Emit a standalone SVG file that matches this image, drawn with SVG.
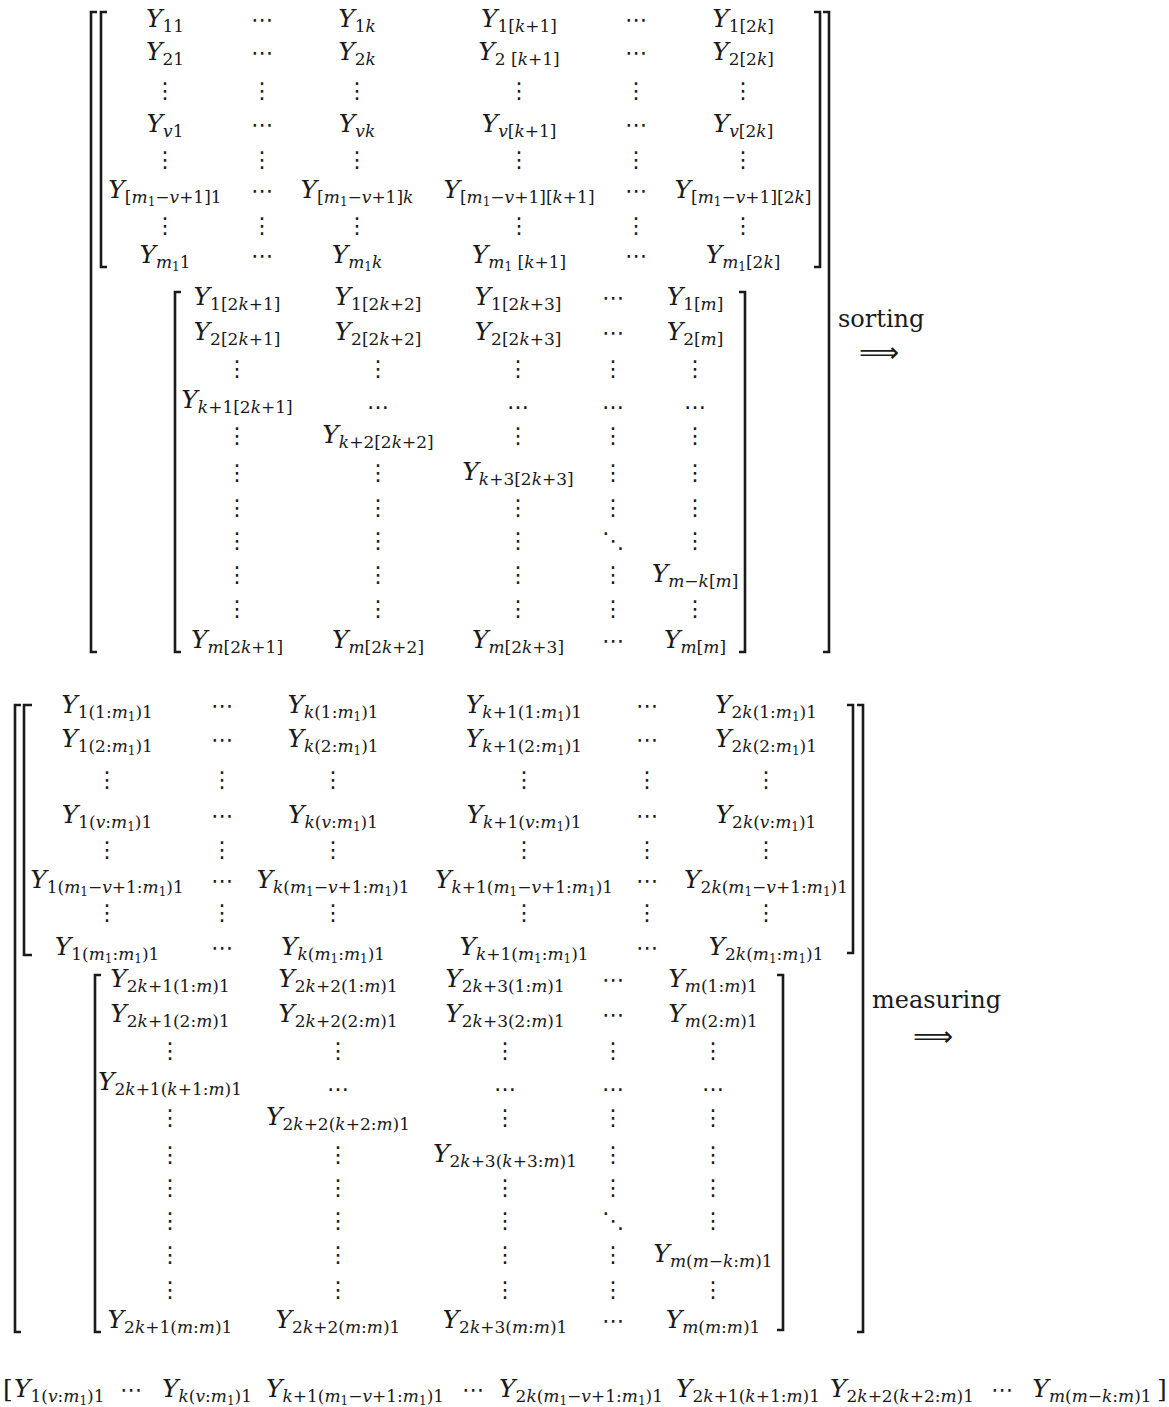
<svg xmlns="http://www.w3.org/2000/svg" width="1169" height="1407" viewBox="0 0 1169 1407">
<style>
.t{font-family:"DejaVu Serif",serif;font-size:25px;fill:#1a1a1a;text-anchor:middle}
.i{font-style:italic}
.s{font-size:17px}
.n{font-size:12px}
.d{font-family:"DejaVu Sans",sans-serif;font-size:22px;fill:#1a1a1a;text-anchor:middle}
.w{font-family:"DejaVu Serif",serif;font-size:24px;fill:#1a1a1a}
.a{font-family:"DejaVu Sans",sans-serif;font-size:28px;fill:#1a1a1a;text-anchor:middle}
.b{fill:none;stroke:#1a1a1a;stroke-width:2.6}
</style>
<rect width="1169" height="1407" fill="#fff"/>

<g id="brackets">
<path class="b" d="M97,12H91V652H97"/>
<path class="b" d="M107,12H101V267H107"/>
<path class="b" d="M814,12H820V267H814"/>
<path class="b" d="M823,12H829V652H823"/>
<path class="b" d="M181,292H175V652H181"/>
<path class="b" d="M739,292H745V652H739"/>
<path class="b" d="M21,705H15V1332H21"/>
<path class="b" d="M32,705H24V955H32"/>
<path class="b" d="M847,705H853V953H847"/>
<path class="b" d="M857,705H863V1332H857"/>
<path class="b" d="M101,975H95V1332H101"/>
<path class="b" d="M777,975H783V1330H777"/>
</g>

<g id="sorting-upper">
<text class="t" x="165" y="27"><tspan class="i">Y</tspan><tspan class="s" dy="5">11</tspan></text>
<text class="d" x="262" y="27">⋯</text>
<text class="t" x="357" y="27"><tspan class="i">Y</tspan><tspan class="s" dy="5">1<tspan class="i">k</tspan></tspan></text>
<text class="t" x="519" y="27"><tspan class="i">Y</tspan><tspan class="s" dy="5">1[<tspan class="i">k</tspan>+1]</tspan></text>
<text class="d" x="636" y="27">⋯</text>
<text class="t" x="743" y="27"><tspan class="i">Y</tspan><tspan class="s" dy="5">1[2<tspan class="i">k</tspan>]</tspan></text>

<text class="t" x="165" y="60"><tspan class="i">Y</tspan><tspan class="s" dy="5">21</tspan></text>
<text class="d" x="262" y="60">⋯</text>
<text class="t" x="357" y="60"><tspan class="i">Y</tspan><tspan class="s" dy="5">2<tspan class="i">k</tspan></tspan></text>
<text class="t" x="519" y="60"><tspan class="i">Y</tspan><tspan class="s" dy="5">2 [<tspan class="i">k</tspan>+1]</tspan></text>
<text class="d" x="636" y="60">⋯</text>
<text class="t" x="743" y="60"><tspan class="i">Y</tspan><tspan class="s" dy="5">2[2<tspan class="i">k</tspan>]</tspan></text>

<text class="d" x="165" y="98">⋮</text><text class="d" x="262" y="98">⋮</text><text class="d" x="357" y="98">⋮</text><text class="d" x="519" y="98">⋮</text><text class="d" x="636" y="98">⋮</text><text class="d" x="743" y="98">⋮</text>

<text class="t" x="165" y="132"><tspan class="i">Y</tspan><tspan class="s" dy="5"><tspan class="i">v</tspan>1</tspan></text>
<text class="d" x="262" y="132">⋯</text>
<text class="t" x="357" y="132"><tspan class="i">Y</tspan><tspan class="s i" dy="5">vk</tspan></text>
<text class="t" x="519" y="132"><tspan class="i">Y</tspan><tspan class="s" dy="5"><tspan class="i">v</tspan>[<tspan class="i">k</tspan>+1]</tspan></text>
<text class="d" x="636" y="132">⋯</text>
<text class="t" x="743" y="132"><tspan class="i">Y</tspan><tspan class="s" dy="5"><tspan class="i">v</tspan>[2<tspan class="i">k</tspan>]</tspan></text>

<text class="d" x="165" y="167">⋮</text><text class="d" x="262" y="167">⋮</text><text class="d" x="357" y="167">⋮</text><text class="d" x="519" y="167">⋮</text><text class="d" x="636" y="167">⋮</text><text class="d" x="743" y="167">⋮</text>

<text class="t" x="165" y="198"><tspan class="i">Y</tspan><tspan class="s" dy="5">[<tspan class="i">m</tspan><tspan class="n" dy="3">1</tspan><tspan dy="-3">−<tspan class="i">v</tspan>+1]1</tspan></tspan></text>
<text class="d" x="262" y="198">⋯</text>
<text class="t" x="357" y="198"><tspan class="i">Y</tspan><tspan class="s" dy="5">[<tspan class="i">m</tspan><tspan class="n" dy="3">1</tspan><tspan dy="-3">−<tspan class="i">v</tspan>+1]<tspan class="i">k</tspan></tspan></tspan></text>
<text class="t" x="519" y="198"><tspan class="i">Y</tspan><tspan class="s" dy="5">[<tspan class="i">m</tspan><tspan class="n" dy="3">1</tspan><tspan dy="-3">−<tspan class="i">v</tspan>+1][<tspan class="i">k</tspan>+1]</tspan></tspan></text>
<text class="d" x="636" y="198">⋯</text>
<text class="t" x="743" y="198"><tspan class="i">Y</tspan><tspan class="s" dy="5">[<tspan class="i">m</tspan><tspan class="n" dy="3">1</tspan><tspan dy="-3">−<tspan class="i">v</tspan>+1][2<tspan class="i">k</tspan>]</tspan></tspan></text>

<text class="d" x="165" y="233">⋮</text><text class="d" x="262" y="233">⋮</text><text class="d" x="357" y="233">⋮</text><text class="d" x="519" y="233">⋮</text><text class="d" x="636" y="233">⋮</text><text class="d" x="743" y="233">⋮</text>

<text class="t" x="165" y="263"><tspan class="i">Y</tspan><tspan class="s" dy="5"><tspan class="i">m</tspan><tspan class="n" dy="3">1</tspan><tspan dy="-3">1</tspan></tspan></text>
<text class="d" x="262" y="263">⋯</text>
<text class="t" x="357" y="263"><tspan class="i">Y</tspan><tspan class="s" dy="5"><tspan class="i">m</tspan><tspan class="n" dy="3">1</tspan><tspan class="i" dy="-3">k</tspan></tspan></text>
<text class="t" x="519" y="263"><tspan class="i">Y</tspan><tspan class="s" dy="5"><tspan class="i">m</tspan><tspan class="n" dy="3">1</tspan><tspan dy="-3"> [<tspan class="i">k</tspan>+1]</tspan></tspan></text>
<text class="d" x="636" y="263">⋯</text>
<text class="t" x="743" y="263"><tspan class="i">Y</tspan><tspan class="s" dy="5"><tspan class="i">m</tspan><tspan class="n" dy="3">1</tspan><tspan dy="-3">[2<tspan class="i">k</tspan>]</tspan></tspan></text>
</g>

<g id="sorting-lower">
<text class="t" x="237" y="305"><tspan class="i">Y</tspan><tspan class="s" dy="5">1[2<tspan class="i">k</tspan>+1]</tspan></text>
<text class="t" x="378" y="305"><tspan class="i">Y</tspan><tspan class="s" dy="5">1[2<tspan class="i">k</tspan>+2]</tspan></text>
<text class="t" x="518" y="305"><tspan class="i">Y</tspan><tspan class="s" dy="5">1[2<tspan class="i">k</tspan>+3]</tspan></text>
<text class="d" x="613" y="305">⋯</text>
<text class="t" x="695" y="305"><tspan class="i">Y</tspan><tspan class="s" dy="5">1[<tspan class="i">m</tspan>]</tspan></text>

<text class="t" x="237" y="340"><tspan class="i">Y</tspan><tspan class="s" dy="5">2[2<tspan class="i">k</tspan>+1]</tspan></text>
<text class="t" x="378" y="340"><tspan class="i">Y</tspan><tspan class="s" dy="5">2[2<tspan class="i">k</tspan>+2]</tspan></text>
<text class="t" x="518" y="340"><tspan class="i">Y</tspan><tspan class="s" dy="5">2[2<tspan class="i">k</tspan>+3]</tspan></text>
<text class="d" x="613" y="340">⋯</text>
<text class="t" x="695" y="340"><tspan class="i">Y</tspan><tspan class="s" dy="5">2[<tspan class="i">m</tspan>]</tspan></text>

<text class="d" x="237" y="376">⋮</text><text class="d" x="378" y="376">⋮</text><text class="d" x="518" y="376">⋮</text><text class="d" x="613" y="376">⋮</text><text class="d" x="695" y="376">⋮</text>

<text class="t" x="237" y="408"><tspan class="i">Y</tspan><tspan class="s" dy="5"><tspan class="i">k</tspan>+1[2<tspan class="i">k</tspan>+1]</tspan></text>
<text class="d" x="378" y="409">…</text><text class="d" x="518" y="409">…</text><text class="d" x="613" y="409">…</text><text class="d" x="695" y="409">…</text>

<text class="d" x="237" y="443">⋮</text>
<text class="t" x="378" y="443"><tspan class="i">Y</tspan><tspan class="s" dy="5"><tspan class="i">k</tspan>+2[2<tspan class="i">k</tspan>+2]</tspan></text>
<text class="d" x="518" y="443">⋮</text><text class="d" x="613" y="443">⋮</text><text class="d" x="695" y="443">⋮</text>

<text class="d" x="237" y="480">⋮</text><text class="d" x="378" y="480">⋮</text>
<text class="t" x="518" y="480"><tspan class="i">Y</tspan><tspan class="s" dy="5"><tspan class="i">k</tspan>+3[2<tspan class="i">k</tspan>+3]</tspan></text>
<text class="d" x="613" y="480">⋮</text><text class="d" x="695" y="480">⋮</text>

<text class="d" x="237" y="515">⋮</text><text class="d" x="378" y="515">⋮</text><text class="d" x="518" y="515">⋮</text><text class="d" x="613" y="515">⋮</text><text class="d" x="695" y="515">⋮</text>

<text class="d" x="237" y="548">⋮</text><text class="d" x="378" y="548">⋮</text><text class="d" x="518" y="548">⋮</text><text class="d" x="613" y="548">⋱</text><text class="d" x="695" y="548">⋮</text>

<text class="d" x="237" y="582">⋮</text><text class="d" x="378" y="582">⋮</text><text class="d" x="518" y="582">⋮</text><text class="d" x="613" y="582">⋮</text>
<text class="t" x="695" y="582"><tspan class="i">Y</tspan><tspan class="s" dy="5"><tspan class="i">m</tspan>−<tspan class="i">k</tspan>[<tspan class="i">m</tspan>]</tspan></text>

<text class="d" x="237" y="616">⋮</text><text class="d" x="378" y="616">⋮</text><text class="d" x="518" y="616">⋮</text><text class="d" x="613" y="616">⋮</text><text class="d" x="695" y="616">⋮</text>

<text class="t" x="237" y="648"><tspan class="i">Y</tspan><tspan class="s" dy="5"><tspan class="i">m</tspan>[2<tspan class="i">k</tspan>+1]</tspan></text>
<text class="t" x="378" y="648"><tspan class="i">Y</tspan><tspan class="s" dy="5"><tspan class="i">m</tspan>[2<tspan class="i">k</tspan>+2]</tspan></text>
<text class="t" x="518" y="648"><tspan class="i">Y</tspan><tspan class="s" dy="5"><tspan class="i">m</tspan>[2<tspan class="i">k</tspan>+3]</tspan></text>
<text class="d" x="613" y="648">⋯</text>
<text class="t" x="695" y="648"><tspan class="i">Y</tspan><tspan class="s" dy="5"><tspan class="i">m</tspan>[<tspan class="i">m</tspan>]</tspan></text>
</g>

<g id="label-sorting">
<text class="w" x="838" y="327">sorting</text>
<text class="a" x="879" y="362">⟹</text>
</g>

<g id="measuring-upper">
<text class="t" x="107" y="713"><tspan class="i">Y</tspan><tspan class="s" dy="5">1(1:<tspan class="i">m</tspan><tspan class="n" dy="3">1</tspan><tspan dy="-3">)1</tspan></tspan></text>
<text class="d" x="222" y="713">⋯</text>
<text class="t" x="333" y="713"><tspan class="i">Y</tspan><tspan class="s" dy="5"><tspan class="i">k</tspan>(1:<tspan class="i">m</tspan><tspan class="n" dy="3">1</tspan><tspan dy="-3">)1</tspan></tspan></text>
<text class="t" x="524" y="713"><tspan class="i">Y</tspan><tspan class="s" dy="5"><tspan class="i">k</tspan>+1(1:<tspan class="i">m</tspan><tspan class="n" dy="3">1</tspan><tspan dy="-3">)1</tspan></tspan></text>
<text class="d" x="647" y="713">⋯</text>
<text class="t" x="766" y="713"><tspan class="i">Y</tspan><tspan class="s" dy="5">2<tspan class="i">k</tspan>(1:<tspan class="i">m</tspan><tspan class="n" dy="3">1</tspan><tspan dy="-3">)1</tspan></tspan></text>

<text class="t" x="107" y="747"><tspan class="i">Y</tspan><tspan class="s" dy="5">1(2:<tspan class="i">m</tspan><tspan class="n" dy="3">1</tspan><tspan dy="-3">)1</tspan></tspan></text>
<text class="d" x="222" y="747">⋯</text>
<text class="t" x="333" y="747"><tspan class="i">Y</tspan><tspan class="s" dy="5"><tspan class="i">k</tspan>(2:<tspan class="i">m</tspan><tspan class="n" dy="3">1</tspan><tspan dy="-3">)1</tspan></tspan></text>
<text class="t" x="524" y="747"><tspan class="i">Y</tspan><tspan class="s" dy="5"><tspan class="i">k</tspan>+1(2:<tspan class="i">m</tspan><tspan class="n" dy="3">1</tspan><tspan dy="-3">)1</tspan></tspan></text>
<text class="d" x="647" y="747">⋯</text>
<text class="t" x="766" y="747"><tspan class="i">Y</tspan><tspan class="s" dy="5">2<tspan class="i">k</tspan>(2:<tspan class="i">m</tspan><tspan class="n" dy="3">1</tspan><tspan dy="-3">)1</tspan></tspan></text>

<text class="d" x="107" y="787">⋮</text><text class="d" x="222" y="787">⋮</text><text class="d" x="333" y="787">⋮</text><text class="d" x="524" y="787">⋮</text><text class="d" x="647" y="787">⋮</text><text class="d" x="766" y="787">⋮</text>

<text class="t" x="107" y="823"><tspan class="i">Y</tspan><tspan class="s" dy="5">1(<tspan class="i">v</tspan>:<tspan class="i">m</tspan><tspan class="n" dy="3">1</tspan><tspan dy="-3">)1</tspan></tspan></text>
<text class="d" x="222" y="823">⋯</text>
<text class="t" x="333" y="823"><tspan class="i">Y</tspan><tspan class="s" dy="5"><tspan class="i">k</tspan>(<tspan class="i">v</tspan>:<tspan class="i">m</tspan><tspan class="n" dy="3">1</tspan><tspan dy="-3">)1</tspan></tspan></text>
<text class="t" x="524" y="823"><tspan class="i">Y</tspan><tspan class="s" dy="5"><tspan class="i">k</tspan>+1(<tspan class="i">v</tspan>:<tspan class="i">m</tspan><tspan class="n" dy="3">1</tspan><tspan dy="-3">)1</tspan></tspan></text>
<text class="d" x="647" y="823">⋯</text>
<text class="t" x="766" y="823"><tspan class="i">Y</tspan><tspan class="s" dy="5">2<tspan class="i">k</tspan>(<tspan class="i">v</tspan>:<tspan class="i">m</tspan><tspan class="n" dy="3">1</tspan><tspan dy="-3">)1</tspan></tspan></text>

<text class="d" x="107" y="857">⋮</text><text class="d" x="222" y="857">⋮</text><text class="d" x="333" y="857">⋮</text><text class="d" x="524" y="857">⋮</text><text class="d" x="647" y="857">⋮</text><text class="d" x="766" y="857">⋮</text>

<text class="t" x="107" y="888"><tspan class="i">Y</tspan><tspan class="s" dy="5">1(<tspan class="i">m</tspan><tspan class="n" dy="3">1</tspan><tspan dy="-3">−<tspan class="i">v</tspan>+1:<tspan class="i">m</tspan></tspan><tspan class="n" dy="3">1</tspan><tspan dy="-3">)1</tspan></tspan></text>
<text class="d" x="222" y="888">⋯</text>
<text class="t" x="333" y="888"><tspan class="i">Y</tspan><tspan class="s" dy="5"><tspan class="i">k</tspan>(<tspan class="i">m</tspan><tspan class="n" dy="3">1</tspan><tspan dy="-3">−<tspan class="i">v</tspan>+1:<tspan class="i">m</tspan></tspan><tspan class="n" dy="3">1</tspan><tspan dy="-3">)1</tspan></tspan></text>
<text class="t" x="524" y="888"><tspan class="i">Y</tspan><tspan class="s" dy="5"><tspan class="i">k</tspan>+1(<tspan class="i">m</tspan><tspan class="n" dy="3">1</tspan><tspan dy="-3">−<tspan class="i">v</tspan>+1:<tspan class="i">m</tspan></tspan><tspan class="n" dy="3">1</tspan><tspan dy="-3">)1</tspan></tspan></text>
<text class="d" x="647" y="888">⋯</text>
<text class="t" x="766" y="888"><tspan class="i">Y</tspan><tspan class="s" dy="5">2<tspan class="i">k</tspan>(<tspan class="i">m</tspan><tspan class="n" dy="3">1</tspan><tspan dy="-3">−<tspan class="i">v</tspan>+1:<tspan class="i">m</tspan></tspan><tspan class="n" dy="3">1</tspan><tspan dy="-3">)1</tspan></tspan></text>

<text class="d" x="107" y="920">⋮</text><text class="d" x="222" y="920">⋮</text><text class="d" x="333" y="920">⋮</text><text class="d" x="524" y="920">⋮</text><text class="d" x="647" y="920">⋮</text><text class="d" x="766" y="920">⋮</text>

<text class="t" x="107" y="955"><tspan class="i">Y</tspan><tspan class="s" dy="5">1(<tspan class="i">m</tspan><tspan class="n" dy="3">1</tspan><tspan dy="-3">:<tspan class="i">m</tspan></tspan><tspan class="n" dy="3">1</tspan><tspan dy="-3">)1</tspan></tspan></text>
<text class="d" x="222" y="955">⋯</text>
<text class="t" x="333" y="955"><tspan class="i">Y</tspan><tspan class="s" dy="5"><tspan class="i">k</tspan>(<tspan class="i">m</tspan><tspan class="n" dy="3">1</tspan><tspan dy="-3">:<tspan class="i">m</tspan></tspan><tspan class="n" dy="3">1</tspan><tspan dy="-3">)1</tspan></tspan></text>
<text class="t" x="524" y="955"><tspan class="i">Y</tspan><tspan class="s" dy="5"><tspan class="i">k</tspan>+1(<tspan class="i">m</tspan><tspan class="n" dy="3">1</tspan><tspan dy="-3">:<tspan class="i">m</tspan></tspan><tspan class="n" dy="3">1</tspan><tspan dy="-3">)1</tspan></tspan></text>
<text class="d" x="647" y="955">⋯</text>
<text class="t" x="766" y="955"><tspan class="i">Y</tspan><tspan class="s" dy="5">2<tspan class="i">k</tspan>(<tspan class="i">m</tspan><tspan class="n" dy="3">1</tspan><tspan dy="-3">:<tspan class="i">m</tspan></tspan><tspan class="n" dy="3">1</tspan><tspan dy="-3">)1</tspan></tspan></text>
</g>

<g id="measuring-lower">
<text class="t" x="170" y="987"><tspan class="i">Y</tspan><tspan class="s" dy="5">2<tspan class="i">k</tspan>+1(1:<tspan class="i">m</tspan>)1</tspan></text>
<text class="t" x="338" y="987"><tspan class="i">Y</tspan><tspan class="s" dy="5">2<tspan class="i">k</tspan>+2(1:<tspan class="i">m</tspan>)1</tspan></text>
<text class="t" x="505" y="987"><tspan class="i">Y</tspan><tspan class="s" dy="5">2<tspan class="i">k</tspan>+3(1:<tspan class="i">m</tspan>)1</tspan></text>
<text class="d" x="613" y="987">⋯</text>
<text class="t" x="713" y="987"><tspan class="i">Y</tspan><tspan class="s" dy="5"><tspan class="i">m</tspan>(1:<tspan class="i">m</tspan>)1</tspan></text>

<text class="t" x="170" y="1022"><tspan class="i">Y</tspan><tspan class="s" dy="5">2<tspan class="i">k</tspan>+1(2:<tspan class="i">m</tspan>)1</tspan></text>
<text class="t" x="338" y="1022"><tspan class="i">Y</tspan><tspan class="s" dy="5">2<tspan class="i">k</tspan>+2(2:<tspan class="i">m</tspan>)1</tspan></text>
<text class="t" x="505" y="1022"><tspan class="i">Y</tspan><tspan class="s" dy="5">2<tspan class="i">k</tspan>+3(2:<tspan class="i">m</tspan>)1</tspan></text>
<text class="d" x="613" y="1022">⋯</text>
<text class="t" x="713" y="1022"><tspan class="i">Y</tspan><tspan class="s" dy="5"><tspan class="i">m</tspan>(2:<tspan class="i">m</tspan>)1</tspan></text>

<text class="d" x="170" y="1058">⋮</text><text class="d" x="338" y="1058">⋮</text><text class="d" x="505" y="1058">⋮</text><text class="d" x="613" y="1058">⋮</text><text class="d" x="713" y="1058">⋮</text>

<text class="t" x="170" y="1090"><tspan class="i">Y</tspan><tspan class="s" dy="5">2<tspan class="i">k</tspan>+1(<tspan class="i">k</tspan>+1:<tspan class="i">m</tspan>)1</tspan></text>
<text class="d" x="338" y="1091">…</text><text class="d" x="505" y="1091">…</text><text class="d" x="613" y="1091">…</text><text class="d" x="713" y="1091">…</text>

<text class="d" x="170" y="1125">⋮</text>
<text class="t" x="338" y="1125"><tspan class="i">Y</tspan><tspan class="s" dy="5">2<tspan class="i">k</tspan>+2(<tspan class="i">k</tspan>+2:<tspan class="i">m</tspan>)1</tspan></text>
<text class="d" x="505" y="1125">⋮</text><text class="d" x="613" y="1125">⋮</text><text class="d" x="713" y="1125">⋮</text>

<text class="d" x="170" y="1162">⋮</text><text class="d" x="338" y="1162">⋮</text>
<text class="t" x="505" y="1162"><tspan class="i">Y</tspan><tspan class="s" dy="5">2<tspan class="i">k</tspan>+3(<tspan class="i">k</tspan>+3:<tspan class="i">m</tspan>)1</tspan></text>
<text class="d" x="613" y="1162">⋮</text><text class="d" x="713" y="1162">⋮</text>

<text class="d" x="170" y="1195">⋮</text><text class="d" x="338" y="1195">⋮</text><text class="d" x="505" y="1195">⋮</text><text class="d" x="613" y="1195">⋮</text><text class="d" x="713" y="1195">⋮</text>

<text class="d" x="170" y="1228">⋮</text><text class="d" x="338" y="1228">⋮</text><text class="d" x="505" y="1228">⋮</text><text class="d" x="613" y="1228">⋱</text><text class="d" x="713" y="1228">⋮</text>

<text class="d" x="170" y="1262">⋮</text><text class="d" x="338" y="1262">⋮</text><text class="d" x="505" y="1262">⋮</text><text class="d" x="613" y="1262">⋮</text>
<text class="t" x="713" y="1262"><tspan class="i">Y</tspan><tspan class="s" dy="5"><tspan class="i">m</tspan>(<tspan class="i">m</tspan>−<tspan class="i">k</tspan>:<tspan class="i">m</tspan>)1</tspan></text>

<text class="d" x="170" y="1297">⋮</text><text class="d" x="338" y="1297">⋮</text><text class="d" x="505" y="1297">⋮</text><text class="d" x="613" y="1297">⋮</text><text class="d" x="713" y="1297">⋮</text>

<text class="t" x="170" y="1328"><tspan class="i">Y</tspan><tspan class="s" dy="5">2<tspan class="i">k</tspan>+1(<tspan class="i">m</tspan>:<tspan class="i">m</tspan>)1</tspan></text>
<text class="t" x="338" y="1328"><tspan class="i">Y</tspan><tspan class="s" dy="5">2<tspan class="i">k</tspan>+2(<tspan class="i">m</tspan>:<tspan class="i">m</tspan>)1</tspan></text>
<text class="t" x="505" y="1328"><tspan class="i">Y</tspan><tspan class="s" dy="5">2<tspan class="i">k</tspan>+3(<tspan class="i">m</tspan>:<tspan class="i">m</tspan>)1</tspan></text>
<text class="d" x="613" y="1328">⋯</text>
<text class="t" x="713" y="1328"><tspan class="i">Y</tspan><tspan class="s" dy="5"><tspan class="i">m</tspan>(<tspan class="i">m</tspan>:<tspan class="i">m</tspan>)1</tspan></text>
</g>

<g id="label-measuring">
<text class="w" x="872" y="1008">measuring</text>
<text class="a" x="933" y="1046">⟹</text>
</g>

<g id="result-vector">
<text class="t" x="3" y="1397" style="text-anchor:start">[</text>
<text class="t" x="14" y="1397" style="text-anchor:start"><tspan class="i">Y</tspan><tspan class="s" dy="5">1(<tspan class="i">v</tspan>:<tspan class="i">m</tspan><tspan class="n" dy="3">1</tspan><tspan dy="-3">)1</tspan></tspan></text>
<text class="d" x="131" y="1397">⋯</text>
<text class="t" x="207" y="1397"><tspan class="i">Y</tspan><tspan class="s" dy="5"><tspan class="i">k</tspan>(<tspan class="i">v</tspan>:<tspan class="i">m</tspan><tspan class="n" dy="3">1</tspan><tspan dy="-3">)1</tspan></tspan></text>
<text class="t" x="355" y="1397"><tspan class="i">Y</tspan><tspan class="s" dy="5"><tspan class="i">k</tspan>+1(<tspan class="i">m</tspan><tspan class="n" dy="3">1</tspan><tspan dy="-3">−<tspan class="i">v</tspan>+1:<tspan class="i">m</tspan></tspan><tspan class="n" dy="3">1</tspan><tspan dy="-3">)1</tspan></tspan></text>
<text class="d" x="473" y="1397">⋯</text>
<text class="t" x="581" y="1397"><tspan class="i">Y</tspan><tspan class="s" dy="5">2<tspan class="i">k</tspan>(<tspan class="i">m</tspan><tspan class="n" dy="3">1</tspan><tspan dy="-3">−<tspan class="i">v</tspan>+1:<tspan class="i">m</tspan></tspan><tspan class="n" dy="3">1</tspan><tspan dy="-3">)1</tspan></tspan></text>
<text class="t" x="748" y="1397"><tspan class="i">Y</tspan><tspan class="s" dy="5">2<tspan class="i">k</tspan>+1(<tspan class="i">k</tspan>+1:<tspan class="i">m</tspan>)1</tspan></text>
<text class="t" x="902" y="1397"><tspan class="i">Y</tspan><tspan class="s" dy="5">2<tspan class="i">k</tspan>+2(<tspan class="i">k</tspan>+2:<tspan class="i">m</tspan>)1</tspan></text>
<text class="d" x="1002" y="1397">⋯</text>
<text class="t" x="1092" y="1397"><tspan class="i">Y</tspan><tspan class="s" dy="5"><tspan class="i">m</tspan>(<tspan class="i">m</tspan>−<tspan class="i">k</tspan>:<tspan class="i">m</tspan>)1</tspan></text>
<text class="t" x="1162" y="1397">]</text>
</g>
</svg>
